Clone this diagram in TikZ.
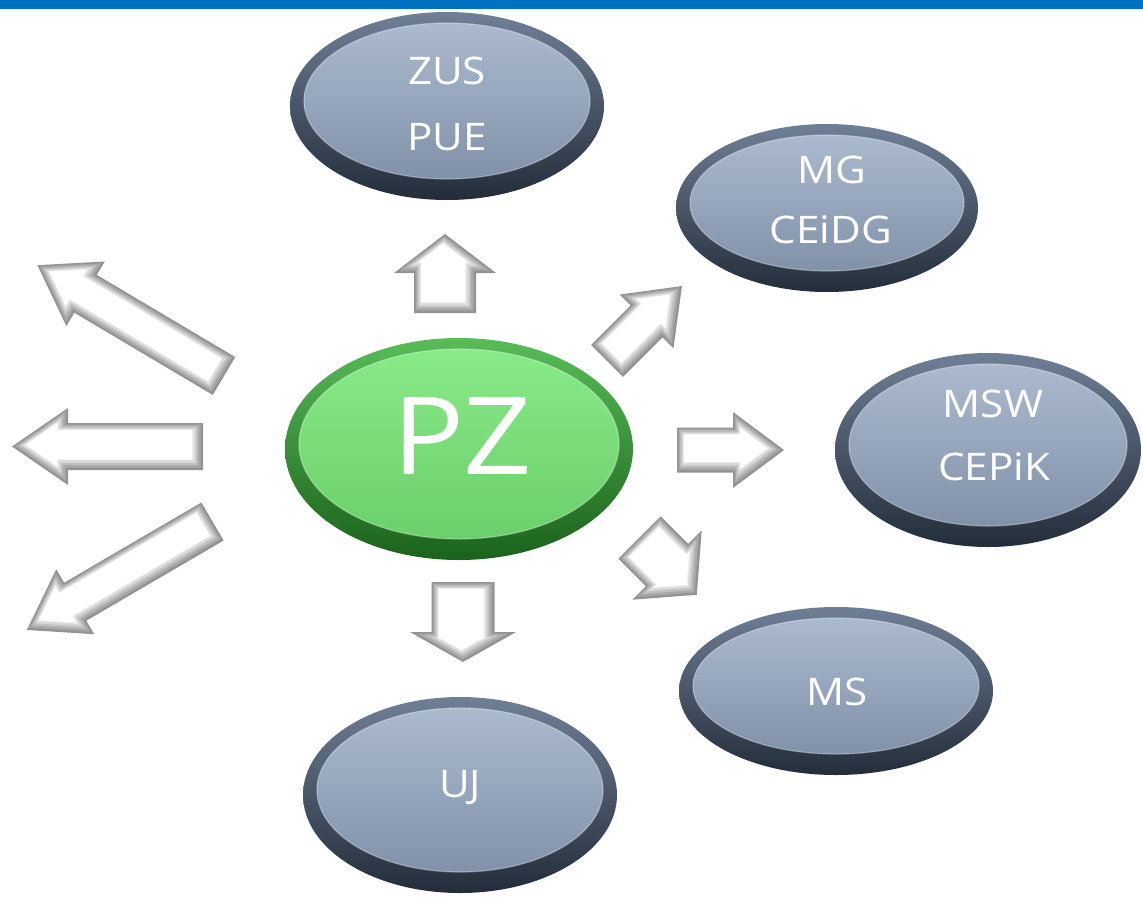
\documentclass[tikz,border=0pt]{standalone}
\usepackage{fontspec}
\setmainfont[FakeStretch=1.11]{Open Sans}
\usetikzlibrary{shapes.geometric}
\definecolor{barblue}{HTML}{0070C0}
\definecolor{bOutT}{HTML}{6F7F96}
\definecolor{bOutB}{HTML}{232D3A}
\definecolor{bInT}{HTML}{ABBACE}
\definecolor{bInB}{HTML}{8091A9}
\definecolor{gOutT}{HTML}{58BC58}
\definecolor{gOutB}{HTML}{1B621B}
\definecolor{gInT}{HTML}{88EA88}
\definecolor{gInB}{HTML}{6BCF6B}
\tikzset{
  lbl/.style={text=white, font=\fontsize{38}{44}\selectfont, inner sep=0pt, anchor=base},
  bigl/.style={text=white, font=\fontsize{108}{120}\selectfont, inner sep=0pt, anchor=base},
  hole/.style={ellipse, inner sep=0pt, draw=none},
}
% name, cx, cy, rx, ry, outer top, outer bottom, inner top, inner bottom
\newcommand{\ovalnode}[9]{%
  \shade[top color=#6, bottom color=#7] (#2,#3) ellipse [x radius=#4, y radius=#5];
  \shade[top color=#8, bottom color=#9, draw=white, draw opacity=0.35, line width=1.2pt]
    (#2,#3-5) ellipse [x radius=#4-14, y radius=#5-16];
  \node[hole, minimum width=2*#4 pt, minimum height=2*#5 pt] (#1) at (#2,#3) {};
}
% x y rot T w h L
\newcommand{\blockarrow}[7]{%
\begin{scope}[shift={(#1,#2)}]
  \foreach \bv/\cl/\sh in {0/gray!85/0, 2/gray!68/0.4, 4/gray!50/0.8, 6/gray!30/1.2, 8/gray!12/1.6, 9/white/1.8}{
    \pgfmathsetmacro\al{atan(#6/#7)}
    \pgfmathsetmacro\tin{#4-\bv/sin(\al)}
    \pgfmathsetmacro\hbi{#4-#7+\bv}
    \pgfmathsetmacro\hyi{#6*(#7-\bv)/#7-\bv/cos(\al)}
    \pgfmathsetmacro\wi{#5-\bv}
    \fill[\cl, shift={(-\sh,-\sh)}, rotate=#3] (\bv,-\wi) -- (\hbi,-\wi) -- (\hbi,-\hyi) -- (\tin,0) -- (\hbi,\hyi) -- (\hbi,\wi) -- (\bv,\wi) -- cycle;
  }
\end{scope}}
\begin{document}
\begin{tikzpicture}[x=1pt,y=-1pt]
\useasboundingbox (0,0) rectangle (1143,897);
\fill[white] (0,0) rectangle (1143,897);
\fill[barblue] (0,0) rectangle (1143,9);

% block arrows
\blockarrow{445}{313}{90}{79}{31}{51}{39}
\blockarrow{607}{361}{45}{106}{22.5}{38}{50}
\blockarrow{677}{450}{0}{107}{22.5}{38}{51}
\blockarrow{639.5}{537.5}{-45}{81}{30}{49}{42}
\blockarrow{463}{582}{-90}{80}{31.5}{53}{30}
\blockarrow{224}{376}{149.3}{217}{22}{37.6}{56}
\blockarrow{203}{446.5}{180}{191}{23.5}{38.5}{56}
\blockarrow{212.5}{521.5}{210.3}{215}{22}{37.6}{56}

% ovals
\ovalnode{zus}{447}{106}{157}{94}{bOutT}{bOutB}{bInT}{bInB}
\ovalnode{mg}{827}{208}{151}{84}{bOutT}{bOutB}{bInT}{bInB}
\ovalnode{msw}{988}{450}{153}{97}{bOutT}{bOutB}{bInT}{bInB}
\ovalnode{ms}{836}{691}{157}{84}{bOutT}{bOutB}{bInT}{bInB}
\ovalnode{uj}{460}{795}{157}{98}{bOutT}{bOutB}{bInT}{bInB}
\ovalnode{pz}{459}{449}{174}{111}{gOutT}{gOutB}{gInT}{gInB}

% labels
\node[lbl] (zusA) at (447,84) {ZUS};
\node[lbl] (zusB) at (447,150) {PUE};
\node[lbl] (mgA) at (832,183) {MG};
\node[lbl] (mgB) at (831,243) {CEiDG};
\node[lbl] (mswA) at (993,417) {MSW};
\node[lbl] (mswB) at (994,480) {CEPiK};
\node[lbl] (msA) at (837,705) {MS};
\node[lbl] (ujA) at (460,797) {UJ};
\node[bigl] (pzA) at (462,474) {PZ};
\end{tikzpicture}
\end{document}
